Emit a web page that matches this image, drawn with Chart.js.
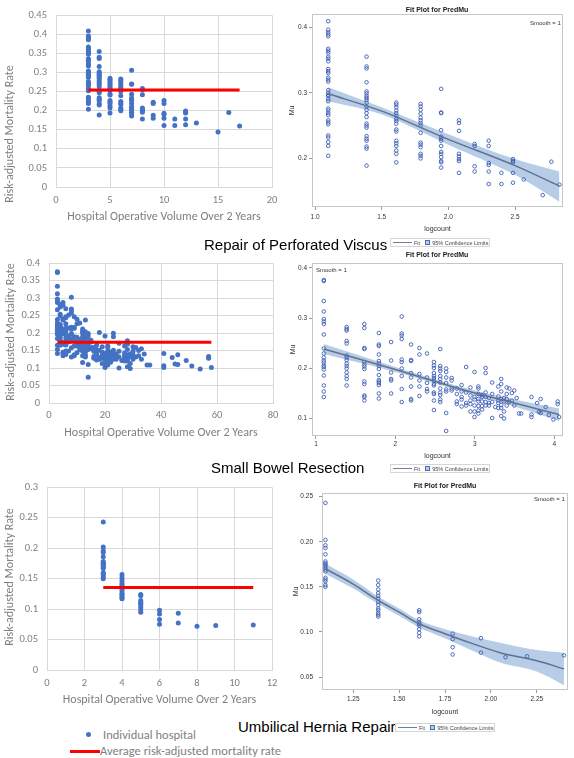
<!DOCTYPE html>
<html lang="en">
<head>
<meta charset="UTF-8">
<title>Operative volume vs risk-adjusted mortality</title>
<script src="https://cdn.jsdelivr.net/npm/chart.js@4.4.1/dist/chart.umd.min.js"></script>
<style>
  body { margin: 0; background: #fff; width: 574px; height: 758px; position: relative; overflow: hidden; }
  canvas, .txt, .sasLegend, .mark { position: absolute; }
  .section { font: 15px "Liberation Sans", Arial, sans-serif; color: #000; white-space: nowrap; line-height: 16px; }
  .fitTitle { font: bold 7px "Liberation Sans", Arial, sans-serif; color: #222; transform: translate(-50%, -50%); white-space: nowrap; }
  .smooth { font: 6px "Liberation Sans", Arial, sans-serif; color: #333; white-space: nowrap; line-height: 8px; }
  .sasLegend { width: 100px; height: 9px; border: 1px solid #d5d5d5; box-sizing: border-box; display: flex; align-items: center;
               gap: 2px; padding-left: 2px; font: 5.5px "Liberation Sans", Arial, sans-serif; color: #444; white-space: nowrap; }
  .lgLine { display: inline-block; width: 19px; height: 1.5px; background: #6a7fa6; }
  .lgBox { display: inline-block; width: 3px; height: 3px; border: 1px solid #4a6ab0; background: #b7cce7; margin-left: 3px; }
  .excelLegend { font: 12.5px Carlito, Lato, sans-serif; color: #7f7f7f; white-space: nowrap; line-height: 14px; }
  .yTitle { font: 12px Carlito, Lato, sans-serif; color: #7f7f7f; white-space: nowrap; line-height: 14px;
            transform: translate(-50%, -50%) rotate(-90deg); }
</style>
</head>
<body>
<canvas id="perfExcel"></canvas>
<canvas id="perfSas"></canvas>
<canvas id="bowelExcel"></canvas>
<canvas id="bowelSas"></canvas>
<canvas id="herniaExcel"></canvas>
<canvas id="herniaSas"></canvas>

<div class="txt yTitle" style="left:9px;top:134px;">Risk-adjusted Mortality Rate</div>
<div class="txt yTitle" style="left:10px;top:332px;">Risk-adjusted Mortality Rate</div>
<div class="txt yTitle" style="left:9px;top:577px;">Risk-adjusted Mortality Rate</div>

<div class="txt fitTitle" style="left:437px;top:9px;">Fit Plot for PredMu</div>
<div class="txt smooth" style="left:530px;top:19px;">Smooth = 1</div>
<div class="txt section" style="left:204px;top:237px;">Repair of Perforated Viscus</div>
<div class="sasLegend" style="left:390px;top:238px;"><span class="lgLine"></span><span>Fit</span><span class="lgBox"></span><span>95% Confidence Limits</span></div>

<div class="txt fitTitle" style="left:437px;top:254px;">Fit Plot for PredMu</div>
<div class="txt smooth" style="left:316px;top:266px;">Smooth = 1</div>
<div class="txt section" style="left:211px;top:460px;">Small Bowel Resection</div>
<div class="sasLegend" style="left:390px;top:464px;"><span class="lgLine"></span><span>Fit</span><span class="lgBox"></span><span>95% Confidence Limits</span></div>

<div class="txt fitTitle" style="left:445px;top:485px;">Fit Plot for PredMu</div>
<div class="txt smooth" style="left:534px;top:495px;">Smooth = 1</div>
<div class="txt section" style="left:238px;top:719px;">Umbilical Hernia Repair</div>
<div class="sasLegend" style="left:395px;top:723px;"><span class="lgLine"></span><span>Fit</span><span class="lgBox"></span><span>95% Confidence Limits</span></div>

<div class="mark" style="left:86px;top:732px;width:5px;height:5px;border-radius:50%;background:#4472c4;"></div>
<div class="txt excelLegend" style="left:103px;top:728px;">Individual hospital</div>
<div class="mark" style="left:70px;top:750px;width:30px;height:3px;background:#ff0000;"></div>
<div class="txt excelLegend" style="left:100px;top:744px;">Average risk-adjusted mortality rate</div>

<script>
// ---- Repair of Perforated Viscus ----
var perfVolumes = [3, 4, 5, 6, 7, 8, 9, 10, 11, 12, 13, 15, 16, 17];
var perfRates = [
  [0.409, 0.396, 0.392, 0.389, 0.386, 0.367, 0.364, 0.361, 0.355, 0.352, 0.348, 0.336, 0.333, 0.330, 0.323, 0.320, 0.317, 0.304,
   0.300, 0.297, 0.295, 0.290, 0.287, 0.276, 0.273, 0.269, 0.266, 0.258, 0.255, 0.252, 0.235, 0.232, 0.225, 0.219, 0.204],
  [0.355, 0.340, 0.337, 0.316, 0.302, 0.299, 0.295, 0.292, 0.289, 0.285, 0.279, 0.274, 0.269, 0.263, 0.253, 0.250, 0.247, 0.234,
   0.230, 0.227, 0.218, 0.215, 0.189],
  [0.285, 0.282, 0.278, 0.273, 0.269, 0.265, 0.260, 0.257, 0.253, 0.244, 0.241, 0.227, 0.223, 0.219, 0.212, 0.207, 0.194],
  [0.283, 0.279, 0.274, 0.268, 0.262, 0.258, 0.254, 0.250, 0.239, 0.224, 0.221, 0.217, 0.207, 0.204, 0.200],
  [0.306, 0.270, 0.269, 0.243, 0.233, 0.230, 0.227, 0.219, 0.210, 0.207, 0.202, 0.196, 0.194, 0.186],
  [0.258, 0.254, 0.242, 0.207, 0.203, 0.199, 0.196, 0.178],
  [0.222, 0.219, 0.188, 0.180],
  [0.227, 0.219, 0.193, 0.190, 0.180, 0.161],
  [0.178, 0.161],
  [0.199, 0.196, 0.194, 0.178, 0.163],
  [0.168],
  [0.144],
  [0.195],
  [0.160]
];
var perfAverage = 0.254;
var perfFitX = [1.0986, 1.5, 2.0, 2.5, 2.833];
var perfFit = [0.2985, 0.272, 0.229, 0.189, 0.158];
var perfUpper = [0.3085, 0.278, 0.237, 0.199, 0.180];
var perfLower = [0.287, 0.267, 0.221, 0.175, 0.134];
var perfLogTicks = [1.0, 1.5, 2.0, 2.5];
var perfMuTicks = [0.2, 0.3, 0.4];

// ---- Small Bowel Resection ----
var bowelVolumes = [3, 4, 5, 6, 7, 8, 9, 10, 11, 12, 13, 14, 15, 16, 17, 18, 19, 20, 21, 22, 23, 24, 25, 26, 27, 28, 29, 30,
                    31, 32, 33, 34, 35, 36, 41, 44, 45, 46, 49, 51, 54, 57, 58];
var bowelRates = [
  [0.376, 0.374, 0.334, 0.313, 0.298, 0.293, 0.288, 0.267, 0.239, 0.229, 0.221, 0.215, 0.211, 0.205, 0.202, 0.197, 0.185,
   0.165, 0.153, 0.142],
  [0.282, 0.278, 0.275, 0.254, 0.249, 0.225, 0.221, 0.216, 0.209, 0.204, 0.199, 0.191, 0.184, 0.178, 0.165],
  [0.288, 0.280, 0.240, 0.238, 0.212, 0.207, 0.203, 0.198, 0.173, 0.168, 0.145, 0.142, 0.135],
  [0.270, 0.247, 0.244, 0.227, 0.214, 0.209, 0.204, 0.198, 0.186, 0.176, 0.173, 0.170, 0.166, 0.149, 0.139],
  [0.252, 0.215, 0.191, 0.178, 0.175, 0.149],
  [0.303, 0.269, 0.265, 0.258, 0.217, 0.212, 0.199, 0.184, 0.158, 0.132],
  [0.247, 0.216, 0.214, 0.190, 0.181, 0.163, 0.138, 0.135],
  [0.240, 0.227, 0.188, 0.175, 0.163, 0.144],
  [0.229, 0.181, 0.170, 0.158, 0.153],
  [0.212, 0.205, 0.200, 0.190, 0.184, 0.180, 0.175, 0.168, 0.165, 0.151, 0.148, 0.135, 0.116],
  [0.238, 0.204, 0.199, 0.194, 0.184, 0.178, 0.171, 0.159, 0.151, 0.146, 0.137, 0.132],
  [0.199, 0.192, 0.181, 0.170, 0.157, 0.153, 0.110, 0.074],
  [0.180, 0.175, 0.159, 0.155],
  [0.159, 0.148, 0.133, 0.128],
  [0.166, 0.153, 0.142, 0.137, 0.123],
  [0.202, 0.151, 0.130, 0.125],
  [0.161, 0.145, 0.135, 0.128, 0.113],
  [0.192, 0.142, 0.137, 0.125, 0.113, 0.102],
  [0.163, 0.159, 0.148, 0.138, 0.133, 0.124, 0.115, 0.109],
  [0.146, 0.142, 0.133, 0.124, 0.117],
  [0.200, 0.190, 0.151, 0.142, 0.132, 0.125],
  [0.140, 0.130, 0.125],
  [0.171, 0.148, 0.132, 0.100],
  [0.122],
  [0.163, 0.143, 0.135, 0.130, 0.120],
  [0.178, 0.168, 0.153, 0.138, 0.126, 0.120, 0.104],
  [0.140, 0.133, 0.113, 0.099],
  [0.161, 0.148, 0.138, 0.125],
  [0.159, 0.132],
  [0.150, 0.135],
  [0.155, 0.125],
  [0.140],
  [0.109],
  [0.109],
  [0.142, 0.107, 0.102],
  [0.130],
  [0.112],
  [0.138, 0.110],
  [0.122],
  [0.106],
  [0.097],
  [0.133, 0.128],
  [0.102]
];
var bowelAverage = 0.174;
var bowelFitX = [1.0986, 2.0, 2.5, 3.0, 3.5, 4.06];
var bowelFit = [0.238, 0.197, 0.173, 0.150, 0.130, 0.107];
var bowelUpper = [0.248, 0.202, 0.177, 0.155, 0.137, 0.119];
var bowelLower = [0.228, 0.192, 0.169, 0.145, 0.123, 0.094];
var bowelLogTicks = [1, 2, 3, 4];
var bowelMuTicks = [0.1, 0.2, 0.3, 0.4];

// ---- Umbilical Hernia Repair ----
var herniaVolumes = [3, 4, 5, 6, 7, 8, 9, 11];
var herniaRates = [
  [0.243, 0.202, 0.196, 0.193, 0.186, 0.178, 0.176, 0.175, 0.173, 0.171, 0.169, 0.167, 0.160, 0.158, 0.156, 0.152, 0.150],
  [0.157, 0.152, 0.147, 0.143, 0.140, 0.137, 0.133, 0.130, 0.126, 0.124, 0.121, 0.119, 0.117],
  [0.124, 0.122, 0.114, 0.111, 0.109, 0.107, 0.103, 0.099, 0.095],
  [0.098, 0.092, 0.083, 0.075],
  [0.093, 0.077],
  [0.072],
  [0.073],
  [0.074]
];
var herniaAverage = 0.1355;
var herniaFitX = [1.0986, 1.25, 1.386, 1.5, 1.609, 1.75, 1.9, 2.05, 2.25, 2.398];
var herniaFit = [0.170, 0.153, 0.135, 0.122, 0.109, 0.098, 0.087, 0.077, 0.068, 0.059];
var herniaUpper = [0.1755, 0.158, 0.139, 0.126, 0.113, 0.103, 0.095, 0.088, 0.080, 0.077];
var herniaLower = [0.1645, 0.148, 0.131, 0.118, 0.105, 0.093, 0.079, 0.066, 0.056, 0.041];
var herniaLogTicks = [1.25, 1.5, 1.75, 2.0, 2.25];
var herniaMuTicks = [0.05, 0.10, 0.15, 0.20, 0.25];

// ---- styles ----
var excelBlue = '#4472c4';
var excelGray = '#7f7f7f';
var excelGrid = '#d9d9d9';
var excelFont = 'Carlito, Lato, sans-serif';
var sasFont = '"Liberation Sans", Arial, sans-serif';

Chart.defaults.animation = false;
Chart.defaults.responsive = false;
Chart.defaults.events = [];
Chart.defaults.plugins.legend.display = false;
Chart.defaults.plugins.tooltip.enabled = false;

var framePlugin = {
  id: 'frame',
  afterDraw(chart, args, opts) {
    var a = chart.chartArea, ctx = chart.ctx;
    ctx.save();
    ctx.strokeStyle = opts.color || '#c4c4c4';
    ctx.lineWidth = 1;
    ctx.strokeRect(a.left + 0.5, a.top + 0.5, a.width - 1, a.height - 1);
    ctx.restore();
  }
};

function place(id, box) {
  var c = document.getElementById(id);
  c.width = box.w;
  c.height = box.h;
  c.style.left = box.x + 'px';
  c.style.top = box.y + 'px';
  return c;
}

function toPoints(volumes, rates, xf) {
  var pts = [];
  volumes.forEach(function (v, i) {
    rates[i].forEach(function (r) { pts.push({x: xf(v), y: r}); });
  });
  return pts;
}

function xy(xs, ys) {
  return xs.map(function (x, i) { return {x: x, y: ys[i]}; });
}

function excelChart(id, box, volumes, rates, average, xMax, xStep, yMax) {
  var avgLine = [{x: volumes[0], y: average}, {x: volumes[volumes.length - 1], y: average}];
  return new Chart(place(id, box), {
    type: 'scatter',
    data: {
      datasets: [
        {type: 'line', data: avgLine, borderColor: '#ff0000', borderWidth: 3, pointRadius: 0, order: 0},
        {data: toPoints(volumes, rates, function (v) { return v; }), backgroundColor: excelBlue,
         borderWidth: 0, pointRadius: 2.5, order: 1}
      ]
    },
    options: {
      layout: {padding: {left: 0, bottom: 0, top: box.top - box.y, right: box.x + box.w - box.right}},
      scales: {
        x: {
          type: 'linear', min: 0, max: xMax,
          grid: {color: excelGrid, drawTicks: false},
          border: {color: excelGrid},
          ticks: {stepSize: xStep, padding: box.xPad, color: excelGray, font: {family: excelFont, size: 10.5}},
          title: {display: true, text: 'Hospital Operative Volume Over 2 Years', color: excelGray,
                  font: {family: excelFont, size: 12}, padding: 0},
          afterFit: function (s) { s.height = box.y + box.h - box.bottom; }
        },
        y: {
          min: 0, max: yMax,
          grid: {color: excelGrid, drawTicks: false},
          border: {color: excelGrid},
          ticks: {stepSize: 0.05, padding: 9, color: excelGray, font: {family: excelFont, size: 10.5},
                  callback: function (v) { return String(+v.toFixed(2)); }},
          afterFit: function (s) { s.width = box.left - box.x; }
        }
      }
    }
  });
}

function sasChart(id, box, cfg) {
  return new Chart(place(id, box), {
    type: 'scatter',
    data: {
      datasets: [
        {type: 'line', data: xy(cfg.fitX, cfg.fit), borderColor: '#62718e', borderWidth: 1.5, pointRadius: 0,
         cubicInterpolationMode: 'monotone', order: 0},
        {data: toPoints(cfg.volumes, cfg.rates, Math.log), backgroundColor: 'rgba(0,0,0,0)',
         borderColor: '#3d5db5', borderWidth: 0.9, pointRadius: 1.8, order: 1},
        {type: 'line', data: xy(cfg.fitX, cfg.upper), borderWidth: 0, pointRadius: 0, fill: '+1',
         backgroundColor: '#b7cce7', cubicInterpolationMode: 'monotone', order: 2},
        {type: 'line', data: xy(cfg.fitX, cfg.lower), borderWidth: 0, pointRadius: 0, fill: false,
         cubicInterpolationMode: 'monotone', order: 3}
      ]
    },
    plugins: [framePlugin],
    options: {
      layout: {padding: {left: 0, bottom: 0, top: box.top - box.y, right: box.x + box.w - box.right}},
      plugins: {frame: {color: '#c6c6c6'}},
      scales: {
        x: {
          type: 'linear', min: cfg.xMin, max: cfg.xMax,
          grid: {drawOnChartArea: false, tickLength: 3, color: '#9a9a9a'},
          border: {display: false},
          afterBuildTicks: function (s) { s.ticks = cfg.xTicks.map(function (v) { return {value: v}; }); },
          ticks: {padding: cfg.xPad, color: '#333', font: {family: sasFont, size: cfg.fontSize},
                  callback: function (v) { return v.toFixed(cfg.xDec); }},
          title: {display: true, text: 'logcount', color: '#333', font: {family: sasFont, size: 7}, padding: 0},
          afterFit: function (s) { s.height = box.y + box.h - box.bottom; }
        },
        y: {
          min: cfg.yMin, max: cfg.yMax,
          grid: {drawOnChartArea: false, tickLength: 3, color: '#9a9a9a'},
          border: {display: false},
          afterBuildTicks: function (s) { s.ticks = cfg.yTicks.map(function (v) { return {value: v}; }); },
          ticks: {padding: cfg.yPad, color: '#333', font: {family: sasFont, size: cfg.fontSize},
                  callback: function (v) { return v.toFixed(cfg.yDec); }},
          title: {display: true, text: 'Mu', color: '#333', font: {family: sasFont, size: 7},
                  padding: {top: cfg.muPad, bottom: 0}},
          afterFit: function (s) { s.width = box.left - box.x; }
        }
      }
    }
  });
}

excelChart('perfExcel', {x: 0, y: 0, w: 290, h: 224, left: 56, right: 272, top: 8, bottom: 187, xPad: 6.7},
           perfVolumes, perfRates, perfAverage, 20, 5, 0.45);
excelChart('bowelExcel', {x: 0, y: 248, w: 290, h: 192, left: 49, right: 273, top: 259, bottom: 403, xPad: 5.7},
           bowelVolumes, bowelRates, bowelAverage, 80, 20, 0.4);
excelChart('herniaExcel', {x: 0, y: 472, w: 290, h: 235, left: 47, right: 272, top: 484, bottom: 670, xPad: 6.7},
           herniaVolumes, herniaRates, herniaAverage, 12, 2, 0.3);

sasChart('perfSas', {x: 288, y: 0, w: 286, h: 233, left: 312, right: 563, top: 14, bottom: 207}, {
  volumes: perfVolumes, rates: perfRates, fitX: perfFitX, fit: perfFit, upper: perfUpper, lower: perfLower,
  xMin: 0.977, xMax: 2.86, yMin: 0.126, yMax: 0.42, xTicks: perfLogTicks, yTicks: perfMuTicks,
  xDec: 1, yDec: 1, xPad: 3.8, yPad: 2, muPad: 0, fontSize: 6.5
});
sasChart('bowelSas', {x: 288, y: 248, w: 286, h: 212, left: 312, right: 563, top: 263, bottom: 436}, {
  volumes: bowelVolumes, rates: bowelRates, fitX: bowelFitX, fit: bowelFit, upper: bowelUpper, lower: bowelLower,
  xMin: 0.95, xMax: 4.11, yMin: 0.064, yMax: 0.41, xTicks: bowelLogTicks, yTicks: bowelMuTicks,
  xDec: 0, yDec: 1, xPad: 1.5, yPad: 2, muPad: 1, fontSize: 6.5
});
sasChart('herniaSas', {x: 288, y: 478, w: 286, h: 238, left: 322, right: 568, top: 493, bottom: 690}, {
  volumes: herniaVolumes, rates: herniaRates, fitX: herniaFitX, fit: herniaFit, upper: herniaUpper, lower: herniaLower,
  xMin: 1.08, xMax: 2.42, yMin: 0.0356, yMax: 0.254, xTicks: herniaLogTicks, yTicks: herniaMuTicks,
  xDec: 2, yDec: 2, xPad: 2.8, yPad: 6, muPad: 3.8, fontSize: 6.5
});
</script>
</body>
</html>
